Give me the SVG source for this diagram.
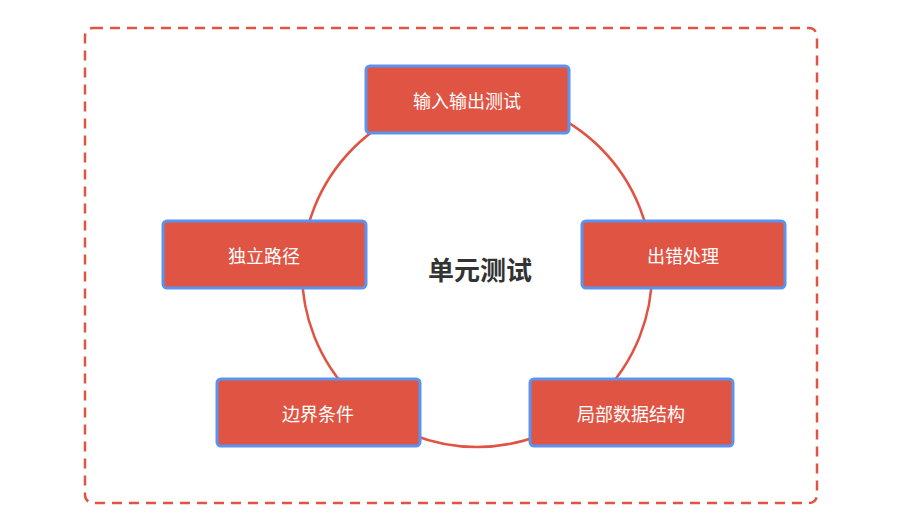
<svg xmlns="http://www.w3.org/2000/svg" width="906" height="522" viewBox="0 0 906 522">
<style>
.box{fill:#e05443;stroke:#5b93f0;stroke-width:3}
.lbl{fill:#fff;font-family:"Noto Sans CJK SC",sans-serif;font-size:18px;text-anchor:middle;dominant-baseline:central}
</style>
<rect width="906" height="522" fill="#fff"/>
<rect x="85" y="28" width="732" height="475" rx="8" fill="none" stroke="#e05443" stroke-width="2.5" stroke-dasharray="10,7"/>
<g id="connectors"><circle cx="477" cy="272" r="175" fill="none" stroke="#e05443" stroke-width="2.5"/></g>
<g id="center"><text x="480" y="268" font-family="Noto Sans CJK SC,sans-serif" font-size="26" font-weight="bold" fill="#333" text-anchor="middle" dominant-baseline="central">单元测试</text></g>
<g id="n1"><rect class="box" x="366" y="66" width="203" height="67" rx="4"/><text class="lbl" x="467" y="100">输入输出测试</text></g>
<g id="n2"><rect class="box" x="582" y="221" width="203" height="67" rx="4"/><text class="lbl" x="683" y="255">出错处理</text></g>
<g id="n3"><rect class="box" x="163" y="221" width="203" height="67" rx="4"/><text class="lbl" x="264" y="255">独立路径</text></g>
<g id="n4"><rect class="box" x="217" y="379" width="203" height="67" rx="4"/><text class="lbl" x="318" y="413">边界条件</text></g>
<g id="n5"><rect class="box" x="530" y="379" width="203" height="67" rx="4"/><text class="lbl" x="631" y="413">局部数据结构</text></g>
</svg>
